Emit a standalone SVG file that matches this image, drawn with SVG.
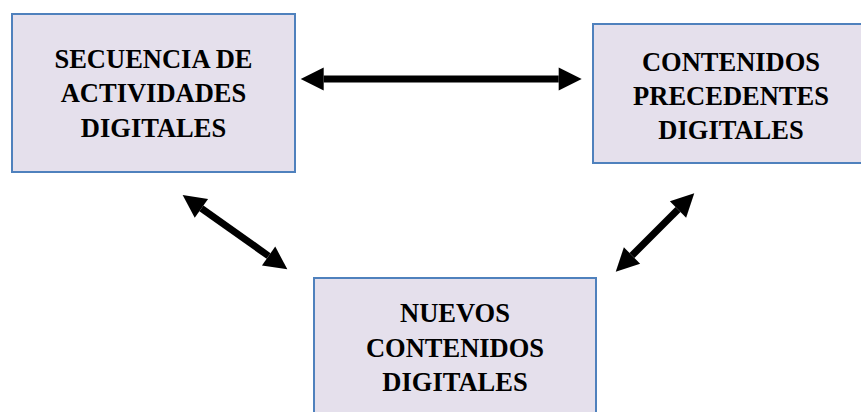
<svg xmlns="http://www.w3.org/2000/svg" width="861" height="412" viewBox="0 0 861 412">
<style>
.box{fill:#E5E0EC;stroke:#4F81BD;stroke-width:2}
.lbl{font-family:"Liberation Serif","DejaVu Serif",serif;font-weight:bold;font-size:26.5px;fill:#000;text-anchor:middle}
.conn{stroke:#000;stroke-width:7;fill:none;marker-start:url(#ah);marker-end:url(#ah)}
</style>
<defs>
<marker id="ah" markerUnits="userSpaceOnUse" markerWidth="24" markerHeight="24" refX="0" refY="11.5" orient="auto-start-reverse" viewBox="0 0 24 24" overflow="visible">
<path d="M0,0 L23,11.5 L0,23 z" fill="#000"/>
</marker>
</defs>
<rect width="861" height="412" fill="#fff"/>
<g id="node-secuencia">
<rect class="box" x="12" y="14" width="283" height="158"/>
<text class="lbl" x="153.5" y="67.5">SECUENCIA DE</text>
<text class="lbl" x="153.5" y="102">ACTIVIDADES</text>
<text class="lbl" x="153.5" y="136.5">DIGITALES</text>
</g>
<g id="node-contenidos-precedentes">
<rect class="box" x="593" y="24" width="277" height="139"/>
<text class="lbl" x="731" y="70.7">CONTENIDOS</text>
<text class="lbl" x="731" y="105">PRECEDENTES</text>
<text class="lbl" x="731" y="139">DIGITALES</text>
</g>
<g id="node-nuevos">
<rect class="box" x="314" y="278" width="282" height="150"/>
<text class="lbl" x="455" y="322">NUEVOS</text>
<text class="lbl" x="455" y="356.5">CONTENIDOS</text>
<text class="lbl" x="455" y="390.5">DIGITALES</text>
</g>
<g id="connectors">
<line class="conn" x1="323.7" y1="79" x2="558.7" y2="79"/>
<line class="conn" x1="201.4" y1="208.3" x2="268.6" y2="256"/>
<line class="conn" x1="678" y1="209.5" x2="632" y2="255.5"/>
</g>
</svg>
